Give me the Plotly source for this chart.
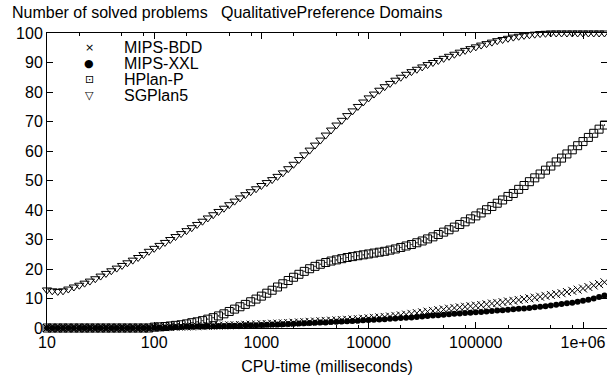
import plotly.graph_objects as go

# CPU time samples (milliseconds)
time_ms = [
    10, 11.2, 12.6, 14.1, 15.8, 17.8, 20.0, 22.4, 25.1, 28.2, 31.6, 35.5, 39.8, 44.7, 50.1, 56.2, 63.1, 70.8, 79.4, 89.1,
    100, 112, 126, 141, 158, 178, 200, 224, 251, 282, 316, 355, 398, 447, 501, 562, 631, 708, 794, 891,
    1000, 1122, 1259, 1413, 1585, 1778, 1995, 2239, 2512, 2818, 3162, 3548, 3981, 4467, 5012, 5623, 6310, 7079, 7943, 8913,
    10000, 11220, 12589, 14125, 15849, 17783, 19953, 22387, 25119, 28184, 31623, 35481, 39811, 44668, 50119, 56234, 63096, 70795, 79433, 89125,
    100000, 112202, 125893, 141254, 158489, 177828, 199526, 223872, 251189, 281838, 316228, 354813, 398107, 446684, 501187, 562341, 630957, 707946, 794328, 891251,
    1000000, 1122018, 1258925, 1412538, 1584893,
]

mips_bdd = [0.0] * 20 + [
    0.2, 0.25, 0.3, 0.35, 0.4, 0.45, 0.5, 0.55, 0.6, 0.65, 0.7, 0.75, 0.8, 0.85, 0.9, 0.95, 1.0, 1.1, 1.15, 1.2,
    1.3, 1.35, 1.45, 1.5, 1.6, 1.7, 1.8, 1.9, 2.0, 2.1, 2.2, 2.3, 2.4, 2.5, 2.6, 2.7, 2.8, 2.9, 3.0, 3.15,
    3.3, 3.45, 3.6, 3.75, 3.9, 4.1, 4.3, 4.55, 4.8, 5.05, 5.3, 5.55, 5.8, 6.05, 6.3, 6.55, 6.8, 7.0, 7.2, 7.4,
    7.6, 7.8, 8.05, 8.3, 8.5, 8.75, 9.0, 9.25, 9.5, 9.8, 10.05, 10.3, 10.6, 10.9, 11.2, 11.5, 11.8, 12.2, 12.6, 13.0,
    13.4, 13.9, 14.4, 14.9, 15.5,
]

mips_xxl = [0.0] * 20 + [
    0.1, 0.15, 0.2, 0.25, 0.3, 0.35, 0.4, 0.45, 0.5, 0.55, 0.6, 0.62, 0.65, 0.7, 0.75, 0.8, 0.85, 0.9, 0.93, 0.97,
    1.0, 1.08, 1.15, 1.22, 1.3, 1.37, 1.45, 1.52, 1.6, 1.68, 1.75, 1.83, 1.9, 2.0, 2.1, 2.2, 2.3, 2.4, 2.5, 2.6,
    2.7, 2.8, 2.9, 3.0, 3.1, 3.22, 3.35, 3.48, 3.6, 3.75, 3.9, 4.05, 4.2, 4.35, 4.5, 4.65, 4.8, 4.92, 5.05, 5.18,
    5.3, 5.45, 5.6, 5.75, 5.9, 6.05, 6.2, 6.35, 6.5, 6.65, 6.8, 7.0, 7.2, 7.4, 7.6, 7.85, 8.1, 8.35, 8.6, 8.9,
    9.2, 9.6, 10.0, 10.5, 11.0,
]

hplan_p = [0.0] * 20 + [
    0.3, 0.4, 0.5, 0.7, 0.9, 1.1, 1.4, 1.8, 2.1, 2.5, 3.0, 3.5, 4.1, 4.8, 5.6, 6.4, 7.2, 8.0, 8.9, 9.8,
    10.8, 11.8, 12.8, 13.9, 15.0, 16.1, 17.2, 18.2, 19.2, 20.1, 20.9, 21.6, 22.2, 22.7, 23.1, 23.5, 23.9, 24.2, 24.5, 24.8,
    25.1, 25.4, 25.7, 26.0, 26.4, 26.8, 27.3, 27.8, 28.3, 28.9, 29.5, 30.2, 30.9, 31.7, 32.5, 33.3, 34.2, 35.1, 36.0, 37.0,
    38.0, 39.0, 40.1, 41.2, 42.3, 43.4, 44.6, 45.6, 47.0, 48.3, 49.6, 50.9, 52.2, 53.5, 54.9, 56.3, 57.6, 59.0, 60.4, 61.8,
    63.2, 64.6, 66.0, 67.4, 68.8,
]

sgplan5 = [
    12.9, 12.6, 12.4, 12.6, 13.2, 13.9, 14.5, 15.2, 15.9, 16.7, 17.6, 18.5, 19.4, 20.3, 21.2, 22.1, 23.0, 23.9, 24.9, 26.0,
    27.0, 28.0, 29.0, 30.0, 31.0, 32.0, 33.0, 34.0, 35.1, 36.2, 37.3, 38.4, 39.5, 40.6, 41.8, 43.0, 44.1, 45.2, 46.2, 47.2,
    48.3, 49.3, 50.3, 51.4, 52.6, 54.0, 55.5, 57.1, 58.7, 60.3, 62.0, 63.7, 65.4, 67.1, 68.8, 70.4, 72.0, 73.6, 75.1, 76.6,
    78.0, 79.3, 80.6, 81.8, 82.9, 84.0, 85.0, 86.0, 86.9, 87.7, 88.5, 89.3, 90.0, 90.7, 91.4, 92.1, 92.8, 93.5, 94.1, 94.7,
    95.3, 95.9, 96.4, 96.9, 97.4, 97.8, 98.2, 98.6, 98.9, 99.2, 99.4, 99.6, 99.8, 99.9, 100, 100, 100, 100, 100, 100,
    100, 100, 100, 100, 100,
]

series_names = ["MIPS-BDD", "MIPS-XXL", "HPlan-P", "SGPlan5"]
x_tick_vals = [10, 100, 1000, 10000, 100000, 1000000]
x_tick_text = ["10", "100", "1000", "10000", "100000", "1e+06"]
x_minor_vals = [20, 50, 80, 200, 500, 800, 2000, 5000, 8000, 20000, 50000, 80000,
                200000, 500000, 800000]
y_tick_vals = [0, 10, 20, 30, 40, 50, 60, 70, 80, 90, 100]

FONT = "Liberation Sans, Arial, Helvetica, sans-serif"
W, H = 607, 379
ML, MR, MT, MB = 47, 0, 33, 51
PW, PH = W - ML - MR, H - MT - MB

def px_x(px):
    return (px - ML) / PW

def px_y(py):
    return (H - MB - py) / PH

fig = go.Figure()
styles = [
    dict(symbol="x-thin-open", size=8, color="black", line=dict(color="black", width=1)),
    dict(symbol="circle", size=6, color="black", line=dict(color="black", width=0)),
    dict(symbol="square-open-dot", size=8, color="black", line=dict(color="black", width=1)),
    dict(symbol="triangle-down-open", size=8, color="black", line=dict(color="black", width=1)),
]
for name, ys, st in zip(series_names, [mips_bdd, mips_xxl, hplan_p, sgplan5], styles):
    fig.add_trace(go.Scatter(x=time_ms, y=ys, mode="markers", name=name,
                             marker=st, cliponaxis=False, showlegend=False))

axis_common = dict(showline=True, linecolor="black", linewidth=1, mirror="ticks",
                   ticks="inside", ticklen=6, tickcolor="black", tickwidth=1,
                   showgrid=False, zeroline=False,
                   tickfont=dict(family=FONT, size=16, color="black"))

fig.update_xaxes(type="log", range=[1, 1 + PW / 107.2],
                 tickmode="array", tickvals=x_tick_vals, ticktext=x_tick_text,
                 minor=dict(tickmode="array", tickvals=x_minor_vals, ticks="inside",
                            ticklen=3, tickcolor="black", showgrid=False),
                 title=dict(text="CPU-time (milliseconds)", standoff=10,
                            font=dict(family=FONT, size=16, color="black")),
                 **axis_common)
fig.update_yaxes(range=[0, 100], tickmode="array", tickvals=y_tick_vals, **axis_common)

annotations = [
    dict(text="Number of solved problems   QualitativePreference Domains",
         x=px_x(10), y=px_y(13), xanchor="left", yanchor="middle"),
]
legend_syms = ["\u00d7", "\u25cf", "\u22a1", "\u25bd"]
legend_rows = [47.5, 63.5, 79.5, 96]
for name, sym, yc in zip(series_names, legend_syms, legend_rows):
    annotations.append(dict(text=name, x=px_x(122), y=px_y(yc), xanchor="left", yanchor="middle"))
    annotations.append(dict(text=sym, x=px_x(89), y=px_y(yc), xanchor="center", yanchor="middle",
                            font=dict(family="DejaVu Sans", size=11, color="black")))
for a in annotations:
    a.update(xref="paper", yref="paper", showarrow=False)
    a.setdefault("font", dict(family=FONT, size=16, color="black"))

fig.update_layout(width=W, height=H, margin=dict(l=ML, r=MR, t=MT, b=MB),
                  paper_bgcolor="white", plot_bgcolor="white",
                  font=dict(family=FONT, size=16, color="black"),
                  annotations=annotations, showlegend=False)

fig.write_html("out.html")
